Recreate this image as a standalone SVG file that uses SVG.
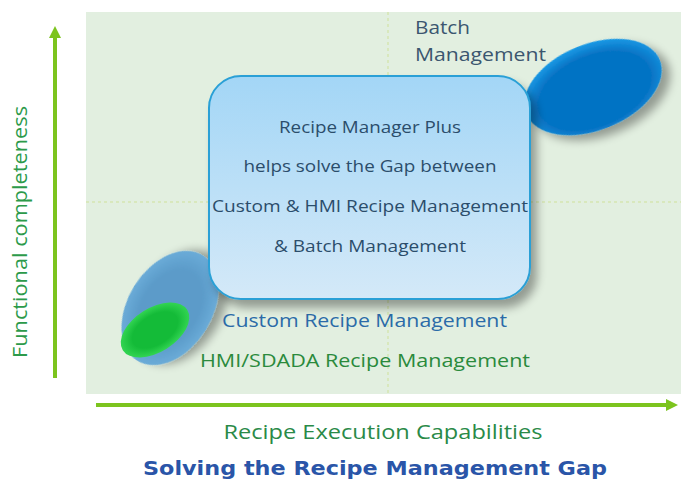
<svg xmlns="http://www.w3.org/2000/svg" width="681" height="485" viewBox="0 0 681 485">
<defs>
<style>
.t{font-family:"Open Sans","Liberation Sans",sans-serif;}
.box{font-size:17px;fill:#2b4d6b;text-anchor:middle;}
.axis{stroke:#7cc41e;stroke-width:4;fill:none;}
.dash{stroke:#cfe19a;stroke-width:1;stroke-dasharray:3 3;fill:none;}
</style>
<linearGradient id="gBox" x1="0" y1="0" x2="0" y2="1">
<stop offset="0" stop-color="#a3d6f6"/>
<stop offset="1" stop-color="#d4e9f8"/>
</linearGradient>
<radialGradient id="gBatch" cx="0.5" cy="0.55" r="0.55">
<stop offset="0.75" stop-color="#0673c4"/>
<stop offset="1" stop-color="#1b9ae6"/>
</radialGradient>
<radialGradient id="gCustom" cx="0.5" cy="0.5" r="0.55">
<stop offset="0.6" stop-color="#5b9bc9"/>
<stop offset="1" stop-color="#6fb0dc"/>
</radialGradient>
<radialGradient id="gHmi" cx="0.5" cy="0.5" r="0.55">
<stop offset="0.6" stop-color="#14bb38"/>
<stop offset="1" stop-color="#3bdc5a"/>
</radialGradient>
<filter id="sh" x="-30%" y="-30%" width="170%" height="170%">
<feGaussianBlur in="SourceAlpha" stdDeviation="5"/>
<feOffset dx="6" dy="8" result="b"/>
<feComponentTransfer><feFuncA type="linear" slope="0.35"/></feComponentTransfer>
<feMerge><feMergeNode/><feMergeNode in="SourceGraphic"/></feMerge>
</filter>
<marker id="ah" viewBox="0 0 10 10" refX="5" refY="5" markerWidth="3" markerHeight="3" orient="auto">
<path d="M0,0 L10,5 L0,10 z" fill="#7cc41e"/>
</marker>
</defs>
<rect width="681" height="485" fill="#ffffff"/>
<rect id="panel" x="86" y="12" width="595" height="382" fill="#e2efe0"/>
<line class="dash" x1="388" y1="12" x2="388" y2="394"/>
<line class="dash" x1="86" y1="202" x2="681" y2="202"/>

<g id="connectors">
<line class="axis" x1="55" y1="378" x2="55" y2="32" marker-end="url(#ah)"/>
<line class="axis" x1="96" y1="405" x2="672" y2="405" marker-end="url(#ah)"/>
</g>

<g id="batch">
<ellipse cx="593" cy="87" rx="72" ry="43" transform="rotate(-22 593 87)" fill="url(#gBatch)" filter="url(#sh)"/>
<text class="t" x="415" y="34" font-size="19" fill="#3b566f" textLength="55" lengthAdjust="spacingAndGlyphs">Batch</text>
<text class="t" x="415" y="61" font-size="19" fill="#3b566f" textLength="131" lengthAdjust="spacingAndGlyphs">Management</text>
</g>

<g id="custom">
<ellipse cx="170" cy="308" rx="62" ry="42" transform="rotate(-58 170 308)" fill="url(#gCustom)" filter="url(#sh)"/>
<text class="t" x="222" y="327" font-size="19" fill="#2b6ba8" textLength="285" lengthAdjust="spacingAndGlyphs">Custom Recipe Management</text>
</g>

<g id="hmi">
<ellipse cx="155" cy="330" rx="38" ry="22" transform="rotate(-32 155 330)" fill="url(#gHmi)"/>
<text class="t" x="200" y="367" font-size="19" fill="#2a8a3c" textLength="330" lengthAdjust="spacingAndGlyphs">HMI/SDADA Recipe Management</text>
</g>

<g id="rmp">
<rect x="209" y="76" width="321" height="223" rx="32" ry="32" fill="url(#gBox)" stroke="#2ba0d6" stroke-width="2" filter="url(#sh)"/>
<text class="t box" x="370" y="133" textLength="182" lengthAdjust="spacingAndGlyphs">Recipe Manager Plus</text>
<text class="t box" x="370" y="172" textLength="253" lengthAdjust="spacingAndGlyphs">helps solve the Gap between</text>
<text class="t box" x="370" y="212" textLength="316" lengthAdjust="spacingAndGlyphs">Custom &amp; HMI Recipe Management</text>
<text class="t box" x="370" y="252" textLength="192" lengthAdjust="spacingAndGlyphs">&amp; Batch Management</text>
</g>

<g id="labels">
<text class="t" transform="translate(27 232) rotate(-90)" text-anchor="middle" font-size="20" fill="#2c9a4a" textLength="252" lengthAdjust="spacingAndGlyphs">Functional completeness</text>
<text class="t" x="383" y="439" text-anchor="middle" font-size="20" fill="#2a8a48" textLength="319" lengthAdjust="spacingAndGlyphs">Recipe Execution Capabilities</text>
<text x="375" y="475" text-anchor="middle" font-family="'DejaVu Sans','Liberation Sans',sans-serif" font-weight="bold" font-size="19" fill="#2a55a8" textLength="464" lengthAdjust="spacingAndGlyphs">Solving the Recipe Management Gap</text>
</g>
</svg>
